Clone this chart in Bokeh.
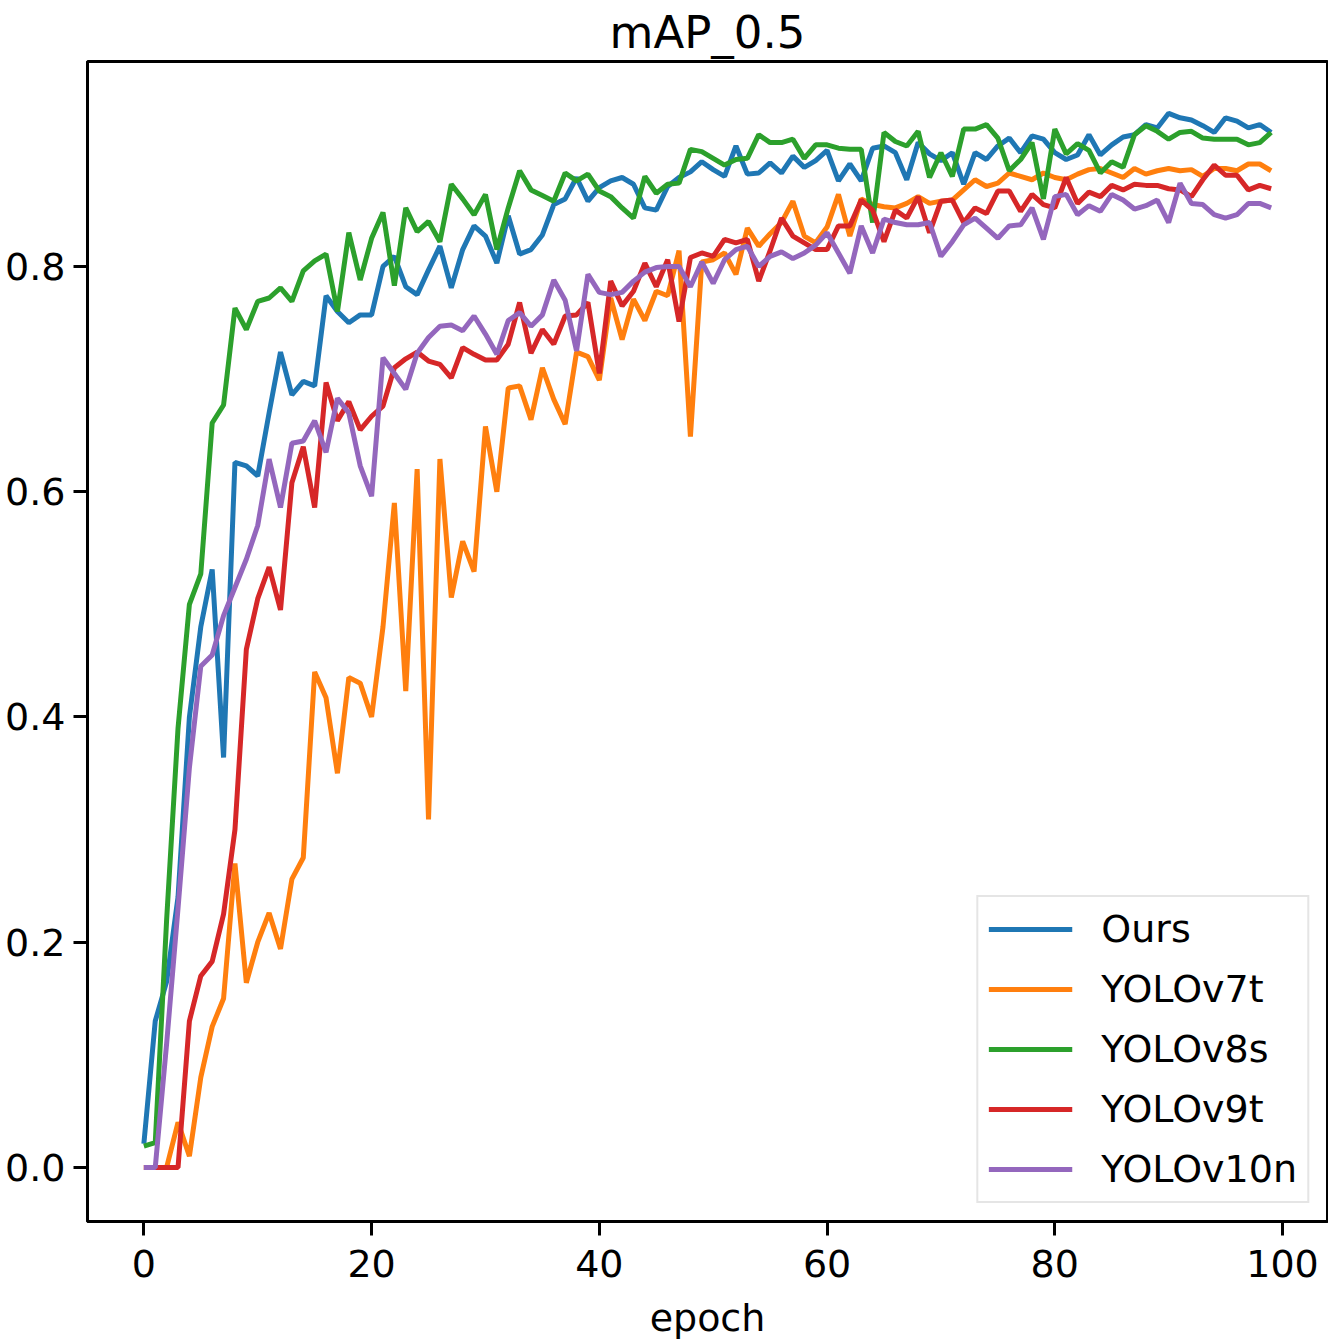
from bokeh.plotting import figure
from bokeh.models import FixedTicker, NumeralTickFormatter, Range1d, Legend, LegendItem
from bokeh.embed import file_html
from bokeh.resources import INLINE

epochs = list(range(100))

ours = [0.021, 0.13, 0.165, 0.24, 0.40, 0.48, 0.531, 0.364, 0.626, 0.623,
        0.614, 0.67, 0.724, 0.686, 0.698, 0.694, 0.774, 0.760, 0.750, 0.757,
        0.757, 0.80, 0.809, 0.782, 0.775, 0.797, 0.818, 0.781, 0.815, 0.836,
        0.827, 0.803, 0.845, 0.811, 0.815, 0.828, 0.855, 0.86, 0.879, 0.858,
        0.870, 0.876, 0.879, 0.873, 0.852, 0.85, 0.871, 0.879, 0.884, 0.893,
        0.886, 0.88, 0.907, 0.882, 0.883, 0.892, 0.883, 0.898, 0.888, 0.894,
        0.903, 0.876, 0.891, 0.876, 0.905, 0.907, 0.901, 0.877, 0.91, 0.90,
        0.894, 0.901, 0.873, 0.901, 0.895, 0.907, 0.914, 0.901, 0.916, 0.913,
        0.901, 0.895, 0.899, 0.917, 0.899, 0.908, 0.915, 0.917, 0.926, 0.923,
        0.936, 0.932, 0.93, 0.925, 0.919, 0.932, 0.929, 0.923, 0.926, 0.919]

yolov7t = [0.0, 0.0, 0.0, 0.04, 0.01, 0.08, 0.125, 0.15, 0.27, 0.164,
           0.2, 0.226, 0.194, 0.256, 0.275, 0.44, 0.417, 0.35, 0.435, 0.43,
           0.40, 0.48, 0.59, 0.423, 0.62, 0.309, 0.629, 0.506, 0.556, 0.529,
           0.658, 0.60, 0.692, 0.694, 0.664, 0.710, 0.682, 0.66, 0.724, 0.72,
           0.699, 0.772, 0.735, 0.771, 0.752, 0.778, 0.774, 0.814, 0.649, 0.804,
           0.806, 0.812, 0.793, 0.834, 0.818, 0.829, 0.839, 0.858, 0.827, 0.821,
           0.835, 0.864, 0.827, 0.86, 0.855, 0.853, 0.852, 0.856, 0.862, 0.856,
           0.858, 0.859, 0.868, 0.877, 0.871, 0.874, 0.883, 0.88, 0.877, 0.883,
           0.879, 0.877, 0.882, 0.886, 0.887, 0.883, 0.879, 0.887, 0.882, 0.885,
           0.887, 0.885, 0.886, 0.88, 0.887, 0.887, 0.885, 0.891, 0.891, 0.885]

yolov8s = [0.019, 0.022, 0.22, 0.39, 0.50, 0.527, 0.661, 0.677, 0.763, 0.744,
           0.769, 0.772, 0.781, 0.769, 0.796, 0.805, 0.811, 0.760, 0.83, 0.788,
           0.825, 0.848, 0.783, 0.852, 0.831, 0.840, 0.822, 0.873, 0.860, 0.846,
           0.864, 0.815, 0.852, 0.885, 0.868, 0.863, 0.858, 0.883, 0.876, 0.882,
           0.867, 0.862, 0.852, 0.843, 0.880, 0.865, 0.873, 0.874, 0.904, 0.902,
           0.896, 0.890, 0.895, 0.896, 0.917, 0.910, 0.91, 0.913, 0.896, 0.908,
           0.908, 0.905, 0.904, 0.904, 0.839, 0.919, 0.911, 0.907, 0.92, 0.879,
           0.901, 0.88, 0.922, 0.922, 0.926, 0.914, 0.885, 0.895, 0.910, 0.86,
           0.922, 0.90, 0.909, 0.903, 0.883, 0.893, 0.888, 0.917, 0.925, 0.92,
           0.913, 0.919, 0.92, 0.914, 0.913, 0.913, 0.913, 0.908, 0.910, 0.919]

yolov9t = [0.0, 0.0, 0.0, 0.0, 0.13, 0.17, 0.183, 0.225, 0.30, 0.46,
           0.505, 0.533, 0.495, 0.608, 0.64, 0.586, 0.697, 0.663, 0.68, 0.655,
           0.667, 0.676, 0.71, 0.718, 0.724, 0.716, 0.713, 0.701, 0.728, 0.722,
           0.717, 0.717, 0.731, 0.768, 0.723, 0.744, 0.731, 0.756, 0.757, 0.768,
           0.705, 0.787, 0.765, 0.778, 0.803, 0.782, 0.806, 0.751, 0.808, 0.812,
           0.809, 0.824, 0.821, 0.824, 0.787, 0.814, 0.843, 0.827, 0.821, 0.815,
           0.815, 0.836, 0.836, 0.859, 0.85, 0.822, 0.85, 0.843, 0.862, 0.830,
           0.858, 0.859, 0.839, 0.852, 0.847, 0.867, 0.867, 0.849, 0.864, 0.855,
           0.852, 0.879, 0.856, 0.866, 0.862, 0.872, 0.868, 0.873, 0.872, 0.872,
           0.869, 0.868, 0.862, 0.877, 0.89, 0.881, 0.881, 0.868, 0.872, 0.869]

yolov10n = [0.0, 0.0, 0.11, 0.23, 0.355, 0.445, 0.455, 0.49, 0.515, 0.54,
            0.57, 0.629, 0.586, 0.643, 0.645, 0.663, 0.635, 0.683, 0.67, 0.623,
            0.596, 0.719, 0.705, 0.691, 0.723, 0.737, 0.747, 0.748, 0.743, 0.756,
            0.74, 0.722, 0.752, 0.759, 0.747, 0.757, 0.788, 0.770, 0.725, 0.793,
            0.777, 0.775, 0.777, 0.787, 0.795, 0.799, 0.80, 0.80, 0.782, 0.804,
            0.785, 0.806, 0.815, 0.818, 0.80, 0.809, 0.813, 0.807, 0.812, 0.819,
            0.830, 0.812, 0.794, 0.836, 0.812, 0.842, 0.839, 0.837, 0.837, 0.839,
            0.809, 0.822, 0.837, 0.843, 0.834, 0.825, 0.836, 0.837, 0.852, 0.824,
            0.862, 0.864, 0.846, 0.854, 0.849, 0.864, 0.859, 0.851, 0.854, 0.859,
            0.839, 0.874, 0.856, 0.855, 0.846, 0.843, 0.846, 0.856, 0.856, 0.852]

series_names = ["Ours", "YOLOv7t", "YOLOv8s", "YOLOv9t", "YOLOv10n"]
series_values = [ours, yolov7t, yolov8s, yolov9t, yolov10n]
colors = ["#1f77b4", "#ff7f0e", "#2ca02c", "#d62728", "#9467bd"]

x_ticks = [0, 20, 40, 60, 80, 100]
y_ticks = [0.0, 0.2, 0.4, 0.6, 0.8]

FONT = "DejaVu Sans"

p = figure(frame_width=1240, frame_height=1160,
           x_range=Range1d(-4.95, 103.95), y_range=Range1d(-0.048, 0.982),
           output_backend="svg", toolbar_location=None,
           min_border_left=87, min_border_right=1, min_border_top=0, min_border_bottom=0)

p.title.text = "mAP_0.5"
p.title.align = "center"
p.title.text_font = FONT
p.title.text_font_size = "45px"
p.title.text_font_style = "normal"
p.title.text_color = "black"
p.title.standoff = 6

p.xgrid.visible = False
p.ygrid.visible = False
p.outline_line_color = "black"
p.outline_line_width = 3
p.outline_line_alpha = 1.0

for ax in (p.xaxis[0], p.yaxis[0]):
    ax.axis_line_width = 3
    ax.axis_line_color = "black"
    ax.major_tick_line_width = 3
    ax.major_tick_line_color = "black"
    ax.major_tick_out = 14
    ax.major_tick_in = 0
    ax.minor_tick_out = 0
    ax.minor_tick_in = 0
    ax.major_label_text_font = FONT
    ax.major_label_text_font_size = "38px"
    ax.major_label_text_color = "black"
    ax.axis_label_text_font = FONT
    ax.axis_label_text_font_size = "38px"
    ax.axis_label_text_font_style = "normal"
    ax.axis_label_text_color = "black"

p.xaxis.ticker = FixedTicker(ticks=x_ticks)
p.yaxis.ticker = FixedTicker(ticks=y_ticks)
p.yaxis.formatter = NumeralTickFormatter(format="0.0")
p.xaxis.major_label_standoff = 14
p.yaxis.major_label_standoff = 8
p.xaxis.axis_label = "epoch"
p.xaxis.axis_label_standoff = 16

items = []
for name, vals, col in zip(series_names, series_values, colors):
    r = p.line(epochs, vals, line_color=col, line_width=5)
    items.append(LegendItem(label=name, renderers=[r]))

legend = Legend(items=items, location="bottom_right")
legend.label_text_font = FONT
legend.label_text_font_size = "38px"
legend.label_text_color = "black"
legend.glyph_width = 84
legend.glyph_height = 40
legend.label_height = 40
legend.label_standoff = 29
legend.spacing = 16
legend.padding = 10
legend.margin = 18
legend.border_line_color = "#cccccc"
legend.border_line_width = 2
legend.background_fill_color = "white"
legend.background_fill_alpha = 0.8
p.add_layout(legend, "center")

open("out.html", "w").write(file_html(p, INLINE))
